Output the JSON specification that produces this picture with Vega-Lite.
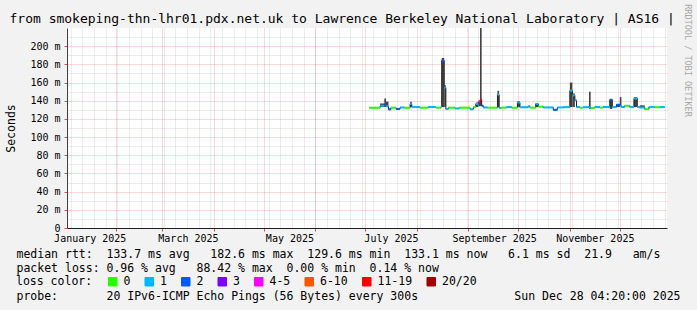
{
  "$schema": "https://vega.github.io/schema/vega-lite/v6.json",
  "width": 600,
  "height": 200,
  "autosize": {"type": "none"},
  "padding": {"left": 67, "top": 28, "right": 30, "bottom": 82},
  "background": "#f2f2f2",
  "config": {
    "view": {"fill": "white", "stroke": null},
    "font": "DejaVu Sans Mono",
    "axis": {"labelFont": "DejaVu Sans Mono", "titleFont": "DejaVu Sans Mono", "titleFontWeight": "normal", "titleFontSize": 11.5, "titleColor": "#000000", "labelColor": "#000000", "labelFontSize": 10}
  },
  "data": {"values": [
    {"t":"2025-07-03T12:00Z","t2":"2025-07-10T00:00Z","med":132.3,"loss":"0"},
    {"t":"2025-07-10T00:00Z","t2":"2025-07-12T12:00Z","med":134.5,"lo":133,"hi":137,"loss":"1"},
    {"t":"2025-07-12T12:00Z","t2":"2025-07-13T12:00Z","med":135.5,"lo":133,"hi":142.5,"loss":"2"},
    {"t":"2025-07-13T12:00Z","t2":"2025-07-15T00:00Z","med":134,"lo":133,"hi":139,"loss":"1"},
    {"t":"2025-07-15T00:00Z","t2":"2025-07-16T12:00Z","med":130.5,"loss":"2"},
    {"t":"2025-07-16T12:00Z","t2":"2025-07-19T12:00Z","med":132.4,"loss":"0"},
    {"t":"2025-07-19T12:00Z","t2":"2025-07-22T00:00Z","med":131,"loss":"2"},
    {"t":"2025-07-22T00:00Z","t2":"2025-07-24T12:00Z","med":132.6,"loss":"1"},
    {"t":"2025-07-24T12:00Z","t2":"2025-07-28T00:00Z","med":132.3,"loss":"0"},
    {"t":"2025-07-28T00:00Z","t2":"2025-07-29T00:00Z","med":136.5,"lo":133,"hi":139,"loss":"1"},
    {"t":"2025-07-29T00:00Z","t2":"2025-08-03T00:00Z","med":133,"loss":"1"},
    {"t":"2025-08-03T00:00Z","t2":"2025-08-08T00:00Z","med":132.4,"loss":"0"},
    {"t":"2025-08-08T00:00Z","t2":"2025-08-12T12:00Z","med":133.1,"loss":"1"},
    {"t":"2025-08-12T12:00Z","t2":"2025-08-15T12:00Z","med":132.4,"loss":"0"},
    {"t":"2025-08-15T12:00Z","t2":"2025-08-16T00:00Z","med":133.3,"loss":"1"},
    {"t":"2025-08-16T00:00Z","t2":"2025-08-17T12:00Z","med":184,"lo":133,"hi":187,"loss":"2"},
    {"t":"2025-08-17T12:00Z","t2":"2025-08-18T12:00Z","med":154.5,"lo":133,"hi":157,"loss":"1"},
    {"t":"2025-08-18T12:00Z","t2":"2025-08-20T00:00Z","med":130.8,"loss":"1"},
    {"t":"2025-08-20T00:00Z","t2":"2025-08-24T00:00Z","med":132.4,"loss":"0"},
    {"t":"2025-08-24T00:00Z","t2":"2025-08-26T12:00Z","med":131.5,"loss":"1"},
    {"t":"2025-08-26T12:00Z","t2":"2025-09-02T00:00Z","med":132.4,"loss":"0"},
    {"t":"2025-09-02T00:00Z","t2":"2025-09-04T00:00Z","med":130.6,"loss":"1"},
    {"t":"2025-09-04T00:00Z","t2":"2025-09-05T12:00Z","med":133,"loss":"0"},
    {"t":"2025-09-05T12:00Z","t2":"2025-09-07T00:00Z","med":136.5,"lo":133,"hi":138,"loss":"1"},
    {"t":"2025-09-07T00:00Z","t2":"2025-09-08T00:00Z","med":138.8,"lo":134,"hi":140,"loss":"4-5"},
    {"t":"2025-09-08T00:00Z","t2":"2025-09-09T00:00Z","med":141,"lo":134,"hi":220,"loss":"11-19"},
    {"t":"2025-09-09T00:00Z","t2":"2025-09-10T00:00Z","med":134.5,"loss":"2"},
    {"t":"2025-09-10T00:00Z","t2":"2025-09-12T12:00Z","med":132.6,"loss":"1"},
    {"t":"2025-09-12T12:00Z","t2":"2025-09-18T12:00Z","med":132.4,"loss":"0"},
    {"t":"2025-09-18T12:00Z","t2":"2025-09-19T12:00Z","med":146.5,"lo":133,"hi":151,"loss":"1"},
    {"t":"2025-09-19T12:00Z","t2":"2025-09-20T12:00Z","med":132,"loss":"1"},
    {"t":"2025-09-20T12:00Z","t2":"2025-09-24T00:00Z","med":132.4,"loss":"0"},
    {"t":"2025-09-24T00:00Z","t2":"2025-09-27T00:00Z","med":133,"loss":"1"},
    {"t":"2025-09-27T00:00Z","t2":"2025-09-30T12:00Z","med":132.4,"loss":"0"},
    {"t":"2025-09-30T12:00Z","t2":"2025-10-02T00:00Z","med":138,"lo":133,"hi":139.5,"loss":"1"},
    {"t":"2025-10-02T00:00Z","t2":"2025-10-07T00:00Z","med":132.8,"loss":"1"},
    {"t":"2025-10-07T00:00Z","t2":"2025-10-08T00:00Z","med":134,"loss":"1"},
    {"t":"2025-10-08T00:00Z","t2":"2025-10-11T12:00Z","med":132.4,"loss":"0"},
    {"t":"2025-10-11T12:00Z","t2":"2025-10-13T00:00Z","med":136.5,"lo":133,"hi":137.5,"loss":"1"},
    {"t":"2025-10-13T00:00Z","t2":"2025-10-16T00:00Z","med":133.5,"loss":"0"},
    {"t":"2025-10-16T00:00Z","t2":"2025-10-22T00:00Z","med":132.6,"loss":"1"},
    {"t":"2025-10-22T00:00Z","t2":"2025-10-24T12:00Z","med":130,"loss":"2"},
    {"t":"2025-10-24T12:00Z","t2":"2025-10-28T00:00Z","med":132.6,"loss":"1"},
    {"t":"2025-10-28T00:00Z","t2":"2025-11-01T00:00Z","med":132.9,"loss":"1"},
    {"t":"2025-11-01T00:00Z","t2":"2025-11-02T12:00Z","med":151,"lo":133,"hi":160,"loss":"1"},
    {"t":"2025-11-02T12:00Z","t2":"2025-11-04T00:00Z","med":146,"lo":133,"hi":148,"loss":"1"},
    {"t":"2025-11-04T00:00Z","t2":"2025-11-05T00:00Z","med":140.5,"loss":"1"},
    {"t":"2025-11-05T00:00Z","t2":"2025-11-07T00:00Z","med":133,"loss":"1"},
    {"t":"2025-11-07T00:00Z","t2":"2025-11-09T00:00Z","med":132.4,"loss":"0"},
    {"t":"2025-11-09T00:00Z","t2":"2025-11-12T12:00Z","med":132.8,"loss":"1"},
    {"t":"2025-11-12T12:00Z","t2":"2025-11-13T12:00Z","med":133,"lo":131,"hi":150,"loss":"1"},
    {"t":"2025-11-13T12:00Z","t2":"2025-11-16T00:00Z","med":132.2,"loss":"0"},
    {"t":"2025-11-16T00:00Z","t2":"2025-11-19T00:00Z","med":133.2,"loss":"1"},
    {"t":"2025-11-19T00:00Z","t2":"2025-11-21T00:00Z","med":132.5,"loss":"0"},
    {"t":"2025-11-21T00:00Z","t2":"2025-11-25T00:00Z","med":133.2,"loss":"1"},
    {"t":"2025-11-25T00:00Z","t2":"2025-11-26T12:00Z","med":141,"lo":131,"hi":142,"loss":"2"},
    {"t":"2025-11-26T12:00Z","t2":"2025-11-29T00:00Z","med":133,"loss":"1"},
    {"t":"2025-11-29T00:00Z","t2":"2025-12-01T00:00Z","med":135.5,"lo":133,"hi":136.5,"loss":"2"},
    {"t":"2025-12-01T00:00Z","t2":"2025-12-02T00:00Z","med":134,"lo":133,"hi":144,"loss":"1"},
    {"t":"2025-12-02T00:00Z","t2":"2025-12-04T00:00Z","med":133,"loss":"1"},
    {"t":"2025-12-04T00:00Z","t2":"2025-12-07T00:00Z","med":134.5,"loss":"0"},
    {"t":"2025-12-07T00:00Z","t2":"2025-12-09T12:00Z","med":133,"loss":"1"},
    {"t":"2025-12-09T12:00Z","t2":"2025-12-11T12:00Z","med":142.5,"lo":133,"hi":144,"loss":"1"},
    {"t":"2025-12-11T12:00Z","t2":"2025-12-13T00:00Z","med":133,"loss":"1"},
    {"t":"2025-12-13T00:00Z","t2":"2025-12-16T00:00Z","med":132.5,"lo":132,"hi":135,"loss":"1"},
    {"t":"2025-12-16T00:00Z","t2":"2025-12-18T12:00Z","med":130.6,"loss":"0"},
    {"t":"2025-12-18T12:00Z","t2":"2025-12-22T00:00Z","med":133,"loss":"1"},
    {"t":"2025-12-22T00:00Z","t2":"2025-12-25T00:00Z","med":132.8,"loss":"0"},
    {"t":"2025-12-25T00:00Z","t2":"2025-12-28T04:00Z","med":133,"loss":"1"}
  ]},
  "resolve": {"axis": {"x": "independent", "y": "independent"}},
  "layer": [
    {
      "transform": [{"filter": "isValid(datum.hi)"}],
      "mark": {"type": "rect", "color": "#444444", "clip": true},
      "encoding": {
        "x": {"field": "t", "type": "temporal",
          "scale": {"type": "utc", "domain": [{"year": 2025, "month": 1, "date": 2, "hours": 20, "utc": true}, {"year": 2025, "month": 12, "date": 29, "hours": 9, "utc": true}]},
          "axis": {"orient": "bottom", "tickCount": {"interval": "week", "step": 1}, "grid": true, "gridColor": "#8f8f8f", "gridOpacity": 0.35, "gridDash": [1, 1], "labels": false, "ticks": false, "domain": false,
            "title": "from smokeping-thn-lhr01.pdx.net.uk to Lawrence Berkeley National Laboratory | AS16 |",
            "titleX": -58, "titleY": -210, "titleAlign": "left", "titleBaseline": "middle", "titleFontSize": 13}},
        "x2": {"field": "t2"},
        "y": {"field": "lo", "type": "quantitative", "scale": {"domain": [0, 220], "nice": false},
          "axis": {"orient": "right", "values": [10, 30, 50, 70, 90, 110, 130, 150, 170, 190, 210], "grid": true, "gridColor": "#8f8f8f", "gridOpacity": 0.35, "gridDash": [1, 1], "labels": false, "ticks": false, "domain": false,
            "title": "RRDTOOL / TOBI OETIKER", "titleAngle": 90, "titleX": 20, "titleY": 32, "titleAlign": "center", "titleBaseline": "middle", "titleFontSize": 8.5, "titleColor": "#a8a8a8"}},
        "y2": {"field": "hi"}
      }
    },
    {
      "mark": {"type": "line", "interpolate": "step-after", "color": "#202020", "strokeWidth": 1},
      "encoding": {
        "x": {"field": "t", "type": "temporal",
          "scale": {"type": "utc", "domain": [{"year": 2025, "month": 1, "date": 2, "hours": 20, "utc": true}, {"year": 2025, "month": 12, "date": 29, "hours": 9, "utc": true}]},
          "axis": {"orient": "bottom", "tickCount": {"interval": "month", "step": 1}, "grid": true, "gridColor": "#de4f4f", "gridOpacity": 0.42, "gridDash": [1, 1], "labels": false, "ticks": true, "tickSize": 3, "tickColor": "#de4f4f", "domain": true, "domainColor": "#1f1f1f",
            "title": ["median rtt:\u00a0\u00a0133.7 ms avg\u00a0\u00a0\u00a0182.6 ms max\u00a0\u00a0129.6 ms min\u00a0\u00a0133.1 ms now\u00a0\u00a0\u00a06.1 ms sd\u00a0\u00a021.9\u00a0\u00a0\u00a0am/s", "packet loss: 0.96 % avg\u00a0\u00a0\u00a088.42 % max\u00a0\u00a00.00 % min\u00a0\u00a00.14 % now"],
            "titleX": -51, "titleY": 20, "titleAlign": "left", "titleBaseline": "top", "titleLineHeight": 14}},
        "y": {"field": "med", "type": "quantitative", "scale": {"domain": [0, 220], "nice": false},
          "axis": {"orient": "left", "values": [0, 20, 40, 60, 80, 100, 120, 140, 160, 180, 200], "grid": true, "gridColor": "#de4f4f", "gridOpacity": 0.42, "gridDash": [1, 1],
            "labelExpr": "datum.value == 0 ? '0' : datum.value + ' m'", "tickSize": 3, "tickColor": "#de4f4f", "labelPadding": 4, "domain": true, "domainColor": "#404040",
            "encode": {"labels": {"update": {"dx": {"signal": "datum.value == 0 ? -12 : 0"}}}},
            "title": "Seconds", "titleX": -56, "titleY": 100, "titleAngle": -90, "titleAlign": "center", "titleBaseline": "middle"}}
      }
    },
    {
      "mark": {"type": "rule", "strokeWidth": 2, "strokeCap": "butt"},
      "encoding": {
        "x": {"field": "t", "type": "temporal",
          "scale": {"type": "utc", "domain": [{"year": 2025, "month": 1, "date": 2, "hours": 20, "utc": true}, {"year": 2025, "month": 12, "date": 29, "hours": 9, "utc": true}]},
          "axis": {"orient": "bottom",
            "values": [{"year": 2025, "month": 1, "date": 16, "hours": 12, "utc": true}, {"year": 2025, "month": 3, "date": 16, "hours": 12, "utc": true}, {"year": 2025, "month": 5, "date": 16, "hours": 12, "utc": true}, {"year": 2025, "month": 7, "date": 16, "hours": 12, "utc": true}, {"year": 2025, "month": 9, "date": 16, "hours": 12, "utc": true}, {"year": 2025, "month": 11, "date": 16, "hours": 0, "utc": true}],
            "labelExpr": "utcFormat(datum.value, '%B %Y')", "labelFlush": false, "labelOverlap": false, "labelBound": false, "ticks": false, "grid": false, "domain": false, "labelPadding": 5,
            "title": "probe:\u00a0\u00a0\u00a0\u00a0\u00a0\u00a0\u00a020 IPv6-ICMP Echo Pings (56 Bytes) every 300s",
            "titleX": -51, "titleY": 68, "titleAlign": "left", "titleBaseline": "middle"}},
        "x2": {"field": "t2"},
        "y": {"field": "med", "type": "quantitative", "scale": {"domain": [0, 220], "nice": false},
          "axis": {"orient": "left", "labels": false, "ticks": false, "domain": false, "grid": false,
            "title": "Sun Dec 28 04:20:00 2025", "titleAngle": 0, "titleX": 613, "titleY": 268, "titleAlign": "right", "titleBaseline": "middle"}},
        "color": {"field": "loss", "type": "nominal",
          "scale": {"domain": ["0", "1", "2", "3", "4-5", "6-10", "11-19", "20/20"], "range": ["#26ff00", "#00b8ff", "#0059ff", "#7e00ff", "#ff00ff", "#ff5500", "#ff0000", "#a10000"]},
          "legend": {"title": "loss color:", "orient": "none", "legendX": -51, "legendY": 248, "direction": "horizontal", "titleOrient": "left",
            "symbolType": "square", "symbolSize": 72, "labelFont": "DejaVu Sans Mono", "labelFontSize": 11.5, "labelColor": "#000000",
            "titleFont": "DejaVu Sans Mono", "titleFontSize": 11.5, "titleFontWeight": "normal", "titleColor": "#000000",
            "labelOffset": 5, "columnPadding": 11.5, "titlePadding": 14, "padding": 0,
            "encode": {"symbols": {"update": {"fill": {"scale": "color", "field": "value"}, "stroke": {"value": "#000000"}, "strokeWidth": {"value": 1}, "fillOpacity": {"value": 1}, "opacity": {"value": 1}, "shape": {"value": "square"}, "size": {"value": 72}}}}}}
      }
    }
  ]
}
